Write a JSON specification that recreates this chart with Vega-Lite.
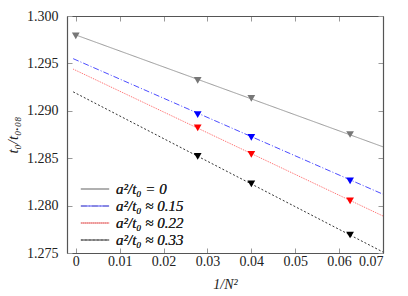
{
  "$schema": "https://vega.github.io/schema/vega-lite/v6.json",
  "width": 316,
  "height": 237,
  "view": {"stroke": null},
  "datasets": {
    "lines": [
      {"x": 0, "y": 1.298, "series": "a²/t₀ = 0"},
      {"x": 0.07, "y": 1.2862, "series": "a²/t₀ = 0"},
      {"x": -0.0006, "y": 1.2955, "series": "a²/t₀ ≈ 0.15"},
      {"x": 0.07, "y": 1.2812, "series": "a²/t₀ ≈ 0.15"},
      {"x": -0.0006, "y": 1.2944, "series": "a²/t₀ ≈ 0.22"},
      {"x": 0.07, "y": 1.2789, "series": "a²/t₀ ≈ 0.22"},
      {"x": -0.0006, "y": 1.2920, "series": "a²/t₀ ≈ 0.33"},
      {"x": 0.07, "y": 1.2751, "series": "a²/t₀ ≈ 0.33"}
    ],
    "points": [
      {"x": 0, "y": 1.2979, "series": "a²/t₀ = 0"},
      {"x": 0.02778, "y": 1.2932, "series": "a²/t₀ = 0"},
      {"x": 0.04, "y": 1.2913, "series": "a²/t₀ = 0"},
      {"x": 0.0625, "y": 1.2875, "series": "a²/t₀ = 0"},
      {"x": 0.02778, "y": 1.2896, "series": "a²/t₀ ≈ 0.15"},
      {"x": 0.04, "y": 1.2872, "series": "a²/t₀ ≈ 0.15"},
      {"x": 0.0625, "y": 1.2826, "series": "a²/t₀ ≈ 0.15"},
      {"x": 0.02778, "y": 1.2882, "series": "a²/t₀ ≈ 0.22"},
      {"x": 0.04, "y": 1.2854, "series": "a²/t₀ ≈ 0.22"},
      {"x": 0.0625, "y": 1.2805, "series": "a²/t₀ ≈ 0.22"},
      {"x": 0.02778, "y": 1.2852, "series": "a²/t₀ ≈ 0.33"},
      {"x": 0.04, "y": 1.2823, "series": "a²/t₀ ≈ 0.33"},
      {"x": 0.0625, "y": 1.2769, "series": "a²/t₀ ≈ 0.33"}
    ]
  },
  "layer": [
    {
      "data": {"name": "lines"},
      "mark": {"type": "line", "strokeWidth": 1},
      "encoding": {
        "x": {"field": "x", "type": "quantitative", "scale": {"domain": [-0.002, 0.07], "nice": false, "zero": false},
              "axis": {"orient": "bottom", "grid": false, "domainColor": "#555", "domainWidth": 1.2, "tickColor": "#999", "tickSize": -5, "values": [0, 0.01, 0.02, 0.03, 0.04, 0.05, 0.06, 0.07], "format": "~g", "labelPadding": 6, "labelFont": "Liberation Serif", "labelFontSize": 14, "labelColor": "#222", "title": "1/N²", "titleFont": "Liberation Serif", "titleFontSize": 14, "titleFontWeight": "normal", "titleColor": "#222", "titleFontStyle": "italic", "titleY": 24}},
        "y": {"field": "y", "type": "quantitative", "scale": {"domain": [1.275, 1.3], "nice": false, "zero": false},
              "axis": {"orient": "left", "grid": false, "domainColor": "#555", "domainWidth": 1.2, "tickColor": "#999", "tickSize": -5, "minExtent": 62, "values": [1.275, 1.28, 1.285, 1.29, 1.295, 1.3], "format": ".3f", "labelPadding": 14, "labelFont": "Liberation Serif", "labelFontSize": 14, "labelColor": "#222", "title": "t₀/t₀.₀₈", "titleFont": "Liberation Serif", "titleFontSize": 15, "titleFontWeight": "normal", "titleColor": "#222", "titleFontStyle": "italic", "titleX": -47}},
        "color": {"field": "series", "type": "nominal",
                  "scale": {"domain": ["a²/t₀ = 0", "a²/t₀ ≈ 0.15", "a²/t₀ ≈ 0.22", "a²/t₀ ≈ 0.33"], "range": ["#999999", "#4d4dff", "#ff6666", "#333333"]},
                  "legend": {"title": null, "orient": "none", "legendX": 13, "legendY": 166, "symbolType": "stroke", "symbolSize": 800, "symbolStrokeWidth": 1, "clipHeight": 14, "labelFont": "Liberation Serif", "labelFontStyle": "italic", "labelFontWeight": "normal", "labelFontSize": 15, "labelColor": "#222", "rowPadding": 2, "labelOffset": 6, "padding": 0}},
        "strokeDash": {"field": "series", "type": "nominal",
                       "scale": {"domain": ["a²/t₀ = 0", "a²/t₀ ≈ 0.15", "a²/t₀ ≈ 0.22", "a²/t₀ ≈ 0.33"], "range": [[1, 0], [6, 2, 1, 2], [1, 1], [2, 2]]},
                       "legend": {"title": null, "orient": "none", "legendX": 13, "legendY": 166, "symbolType": "stroke", "symbolSize": 800, "symbolStrokeWidth": 1, "clipHeight": 14, "labelFont": "Liberation Serif", "labelFontStyle": "italic", "labelFontWeight": "normal", "labelFontSize": 15, "labelColor": "#222", "rowPadding": 2, "labelOffset": 6, "padding": 0}}
      }
    },
    {
      "data": {"name": "points"},
      "mark": {"type": "point", "shape": "triangle-down", "filled": true, "opacity": 1, "size": 60},
      "encoding": {
        "x": {"field": "x", "type": "quantitative", "scale": {"domain": [-0.002, 0.07], "nice": false, "zero": false},
              "axis": {"orient": "top", "grid": false, "domainColor": "#555", "domainWidth": 1.2, "tickColor": "#999", "tickSize": -5, "minExtent": 11, "values": [0, 0.01, 0.02, 0.03, 0.04, 0.05, 0.06, 0.07], "labels": false, "title": null}},
        "y": {"field": "y", "type": "quantitative", "scale": {"domain": [1.275, 1.3], "nice": false, "zero": false},
              "axis": {"orient": "right", "grid": false, "domainColor": "#555", "domainWidth": 1.2, "tickColor": "#999", "tickSize": -5, "values": [1.275, 1.28, 1.285, 1.29, 1.295, 1.3], "labels": false, "title": null}},
        "color": {"field": "series", "type": "nominal",
                  "scale": {"domain": ["a²/t₀ = 0", "a²/t₀ ≈ 0.15", "a²/t₀ ≈ 0.22", "a²/t₀ ≈ 0.33"], "range": ["#777777", "#0000ff", "#ff0000", "#000000"]},
                  "legend": null}
      }
    }
  ],
  "resolve": {"axis": {"x": "independent", "y": "independent"}, "scale": {"color": "independent"}}
}
